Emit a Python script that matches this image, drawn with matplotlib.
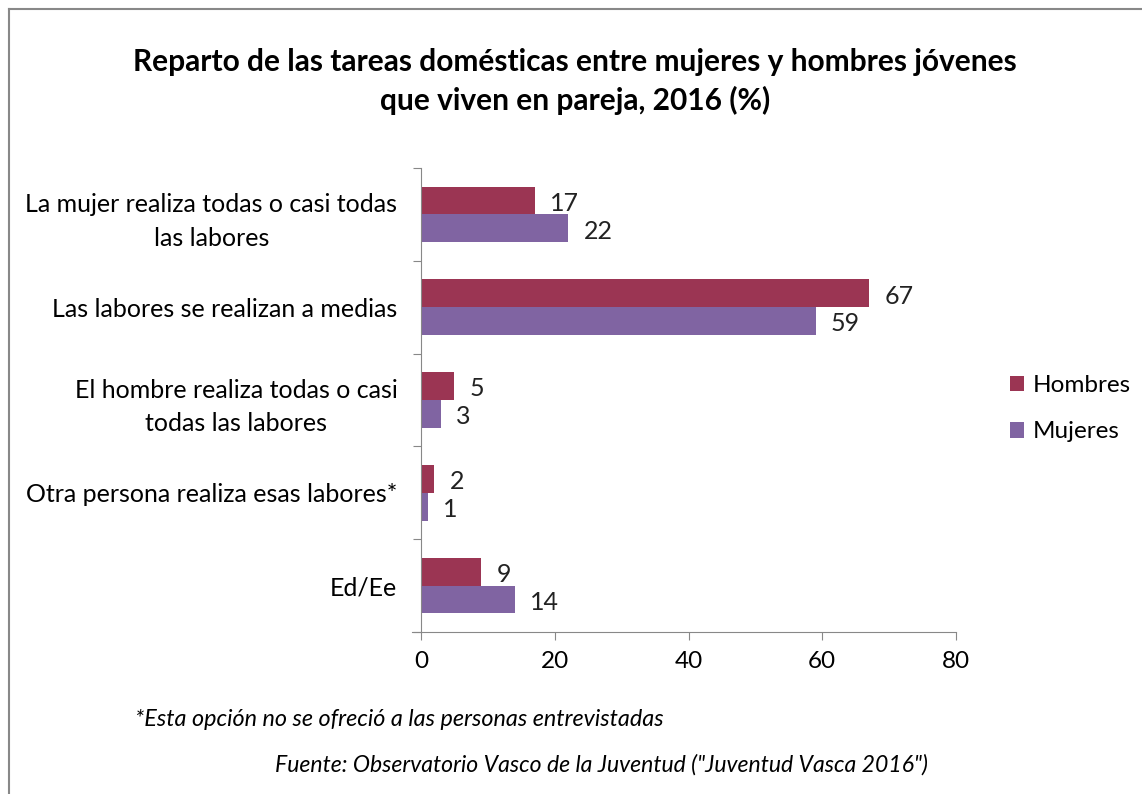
import matplotlib
matplotlib.use("Agg")
import matplotlib.pyplot as plt
import numpy as np
from matplotlib.lines import Line2D

plt.rcParams['font.family'] = ['Lato', 'DejaVu Sans']

categories = ["La mujer realiza todas o casi todas\nlas labores",
              "Las labores se realizan a medias",
              "El hombre realiza todas o casi\ntodas las labores",
              "Otra persona realiza esas labores*",
              "Ed/Ee"]
hombres = [17, 67, 5, 2, 9]
mujeres = [22, 59, 3, 1, 14]
series_names = ["Hombres", "Mujeres"]
colors = ["#9B3553", "#8064A2"]
xticks = [0, 20, 40, 60, 80]

fig = plt.figure(figsize=(11.42, 7.94), dpi=100)
ax = fig.add_axes([421/1142, 1-632/794, (956-421)/1142, (632-168)/794])

y = np.arange(len(categories))
h = 0.3
b1 = ax.barh(y - h/2, hombres, height=h, color=colors[0], label=series_names[0])
b2 = ax.barh(y + h/2, mujeres, height=h, color=colors[1], label=series_names[1])
for bars, vals in ((b1, hombres), (b2, mujeres)):
    for rect, v in zip(bars, vals):
        ax.text(v + 2.3, rect.get_y() + rect.get_height()/2 + 0.03, str(v),
                va='center', ha='left', fontsize=18, color='#222222')

ax.set_ylim(len(categories) - 0.5, -0.5)
ax.set_xlim(0, 80)
ax.set_xticks(xticks)
ax.set_xticklabels([str(t) for t in xticks], fontsize=17.5)
ax.set_yticks(np.arange(len(categories) + 1) - 0.5, minor=False)
ax.set_yticklabels([])
ax.set_yticks(y, minor=True)
ax.set_yticklabels(categories, minor=True, fontsize=18, ha='right',
                   multialignment='center', linespacing=1.55)
ax.tick_params(axis='y', which='minor', length=0, pad=17)
ax.tick_params(axis='y', which='major', length=6, color='#888888', direction='out')
ax.tick_params(axis='x', length=6, color='#888888', direction='out', pad=8)
for s in ['top', 'right']:
    ax.spines[s].set_visible(False)
for s in ['left', 'bottom']:
    ax.spines[s].set_color('#888888')
ax.spines['bottom'].set_bounds(0, 80)

fig.add_artist(Line2D([412/1142, 421/1142], [1-632/794, 1-632/794], color='#888888', lw=0.8))

leg = fig.legend(handles=[b1, b2], labels=series_names, loc='upper left',
                 bbox_to_anchor=(988/1142, 1-353/794), frameon=False, fontsize=17.5,
                 handlelength=0.6, handleheight=0.6, labelspacing=1.05, handletextpad=0.35)

fig.text(575/1142, 1-62/794, "Reparto de las tareas domésticas entre mujeres y hombres jóvenes",
         ha='center', va='center', fontsize=21.5, fontweight='bold')
fig.text(575/1142, 1-100/794, "que viven en pareja, 2016 (%)",
         ha='center', va='center', fontsize=21.5, fontweight='bold')
fig.text(135/1142, 1-720/794, "*Esta opción no se ofreció a las personas entrevistadas",
         ha='left', va='center', fontsize=16.8, style='italic')
fig.text(275/1142, 1-765/794, "Fuente: Observatorio Vasco de la Juventud (\"Juventud Vasca 2016\")",
         ha='left', va='center', fontsize=16.6, style='italic')

fig.add_artist(Line2D([9/1142, 9/1142], [0, 1-9/794], color='#888888', lw=1.5))
fig.add_artist(Line2D([9/1142, 1], [1-9/794, 1-9/794], color='#888888', lw=1.5))

fig.savefig("out.png", dpi=100)
